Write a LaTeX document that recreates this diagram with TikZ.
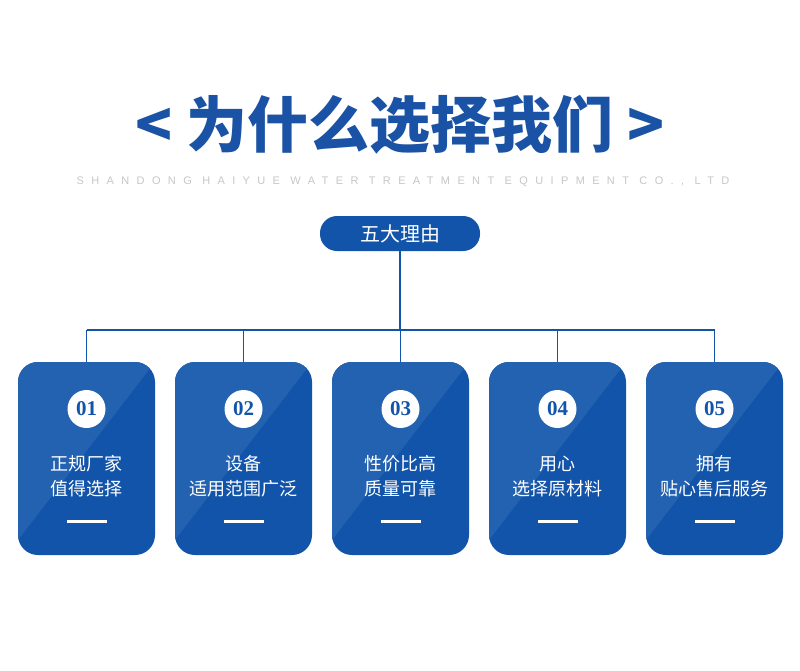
\documentclass[tikz,border=0pt]{standalone}
\usepackage{fontspec}
\setmainfont{Noto Sans CJK SC}
\newfontfamily\numfont{Liberation Serif}
\newfontfamily\subfont[LetterSpace=67]{Liberation Sans}
\definecolor{cardblue}{HTML}{1254A9}
\definecolor{bandblue}{HTML}{2262B0}
\definecolor{titleblue}{HTML}{1A52A5}
\tikzset{
  num/.style={circle,fill=white,minimum size=38pt,inner sep=0pt,text=cardblue,font=\numfont\bfseries\fontsize{21pt}{21pt}\selectfont},
  reason/.style={text=white,align=center,font=\fontsize{18pt}{25pt}\selectfont},
  link/.style={draw=cardblue,line width=1.2pt}
}
\begin{document}
\begin{tikzpicture}[x=1pt,y=-1pt]
\useasboundingbox[fill=white] (0,0) rectangle (800,670);
\node (title) at (400,125) {\textcolor{titleblue}{\fontsize{61pt}{61pt}\selectfont\bfseries < 为什么选择我们 >}};
\node (sub) at (403,182) {\textcolor{black!22}{\subfont\fontsize{11pt}{11pt}\selectfont SHANDONG HAIYUE WATER TREATMENT EQUIPMENT CO., LTD}};
\node[fill=cardblue,rounded corners=17pt,minimum width=160pt,minimum height=35pt,text=white,font=\fontsize{20pt}{20pt}\selectfont] (head) at (400,233.5) {五大理由};
\coordinate (hub) at (400,330);
\draw[link] (head.south) -- (hub);
\foreach \i/\t in {1/{正规厂家\\值得选择},2/{设备\\适用范围广泛},3/{性价比高\\质量可靠},4/{用心\\选择原材料},5/{拥有\\贴心售后服务}}{
  \pgfmathsetmacro{\cx}{86.5+157*(\i-1)}
  \pgfmathsetmacro{\xl}{\cx-68.5}
  \pgfmathsetmacro{\xr}{\cx+68.5}
  \fill[cardblue,rounded corners=20pt] (\xl,362) -- (\xr,362) -- (\xr,555) -- (\xl,555) -- cycle;
  \begin{scope}
    \clip[rounded corners=20pt] (\xl,362) -- (\xr,362) -- (\xr,555) -- (\xl,555) -- cycle;
    \fill[bandblue] (\xl,362) -- (\xr,362) -- (\xl,540) -- cycle;
  \end{scope}
  \coordinate (top\i) at (\cx,362);
  \coordinate (bar\i) at (\cx,330);
  \draw[link] (bar\i) -- (top\i);
  \node[num] (n\i) at (\cx,409) {0\i};
  \node[reason] (r\i) at (\cx,476) {\t};
  \fill[white] (\cx-20,519.5) rectangle (\cx+20,522.5);
}
\draw[link] (bar1) -- (bar5);
\end{tikzpicture}
\end{document}
